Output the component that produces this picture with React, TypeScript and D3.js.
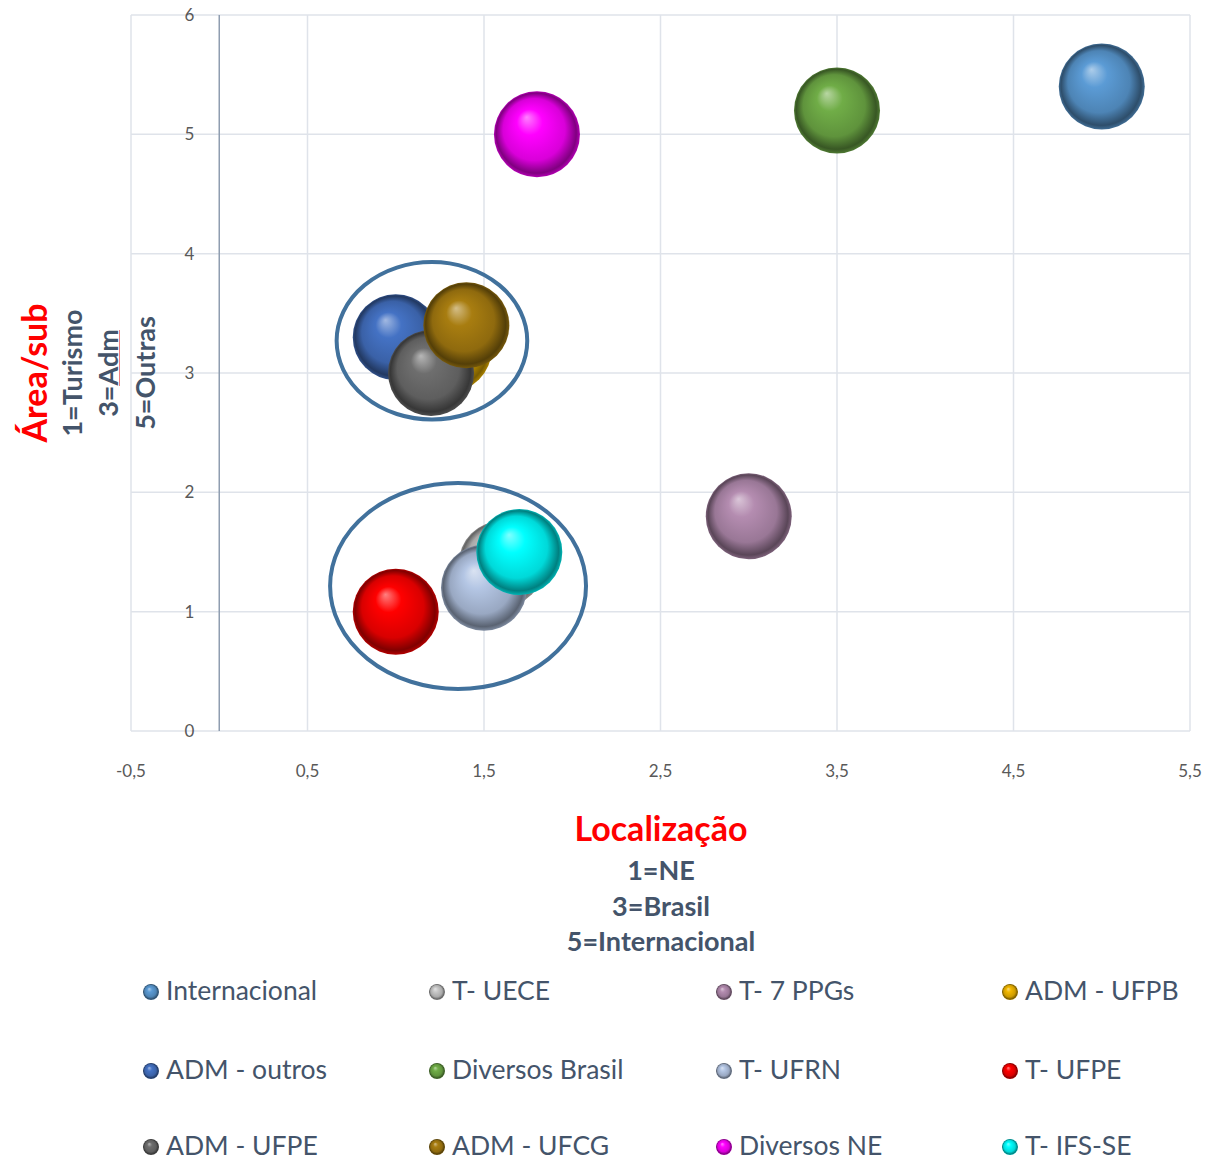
import * as d3 from "d3";

// series, in drawing order (later ones sit on top)
const seriesNames = [
  "Internacional", "T- UECE", "T- 7 PPGs", "ADM - UFPB",
  "ADM - outros", "Diversos Brasil", "T- UFRN", "T- UFPE",
  "ADM - UFPE", "ADM - UFCG", "Diversos NE", "T- IFS-SE",
];
const xValues = [5, 1.6, 3, 1.3, 1, 3.5, 1.5, 1, 1.2, 1.4, 1.8, 1.7];
const yValues = [5.4, 1.4, 1.8, 3.2, 3.3, 5.2, 1.2, 1, 3, 3.4, 5, 1.5];
const bubbleSizes = [1, 1, 1, 1, 1, 1, 1, 1, 1, 1, 1, 1];
const seriesColors = [
  "#5b9bd5", "#c8c8c8", "#b48cb0", "#f2b800",
  "#4472c4", "#70ad47", "#b4c6e4", "#ff0000",
  "#6e6e6e", "#a87d10", "#ff00ff", "#00ffff",
];

const xTicks = [-0.5, 0.5, 1.5, 2.5, 3.5, 4.5, 5.5];
const yTicks = [0, 1, 2, 3, 4, 5, 6];

// hand-drawn ellipses around the two groups (data coords)
const groupCx = [1.205, 1.353];
const groupCy = [3.27, 1.215];
const groupRx = [0.54, 0.725];
const groupRy = [0.66, 0.863];

const yTitle = "Área/sub";
const yNotes = ["1=Turismo", "3=Adm", "5=Outras"];
const xTitle = "Localização";
const xNotes = ["1=NE", "3=Brasil", "5=Internacional"];

const width = 1216;
const height = 1162;
const left = 131, right = 1190, top = 15, bottom = 731;
const font = "Lato, 'Open Sans', sans-serif";
const labelColor = "#44546a";

export default function App() {
  const x = d3.scaleLinear().domain([-0.5, 5.5]).range([left, right]);
  const y = d3.scaleLinear().domain([0, 6]).range([bottom, top]);
  const r = d3.scaleSqrt().domain([0, 1]).range([0, 43]);
  const fmt = (v: number) => d3.format(".1f")(v).replace(".", ",").replace("−", "-");

  const lighter = (c: string, k: number) => d3.interpolateRgb(c, "#ffffff")(k);
  const darker = (c: string, k: number) => d3.interpolateRgb(c, "#000000")(k);

  const legendCols = [143, 429, 716, 1002];
  const legendRows = [992, 1071, 1147];
  const notesX = [82, 118, 155];

  return (
    <svg width={width} height={height} style={{ position: "absolute", left: 0, top: 0, background: "#fff" }}>
      <defs>
        {seriesColors.map((c, i) => (
          <radialGradient key={i} id={`ball${i}`} cx="50%" cy="50%" r="50%" fx="38%" fy="30%">
            <stop offset="0%" stopColor={lighter(c, 0.5)} />
            <stop offset="30%" stopColor={c} />
            <stop offset="72%" stopColor={darker(c, 0.15)} />
            <stop offset="93%" stopColor={darker(c, 0.5)} />
            <stop offset="100%" stopColor={darker(c, 0.3)} />
          </radialGradient>
        ))}
      </defs>

      {/* grid */}
      <g stroke="#dfe3ea" strokeWidth={1.5}>
        {xTicks.map((t) => (
          <line key={`gx${t}`} x1={x(t)} x2={x(t)} y1={top} y2={bottom} />
        ))}
        {yTicks.map((t) => (
          <line key={`gy${t}`} x1={left} x2={right} y1={y(t)} y2={y(t)} />
        ))}
      </g>
      <line x1={x(0)} x2={x(0)} y1={top} y2={bottom} stroke="#8f9db0" strokeWidth={1.5} />

      {/* tick labels */}
      <g fontFamily={font} fontSize={17} fill="#595959">
        {yTicks.map((t) => (
          <text key={`ty${t}`} x={x(0) - 25} y={y(t)} dy="0.35em" textAnchor="end">{t}</text>
        ))}
        {xTicks.map((t) => (
          <text key={`tx${t}`} x={x(t)} y={777} textAnchor="middle">{fmt(t)}</text>
        ))}
      </g>

      {/* bubbles */}
      {seriesNames.map((n, i) => (
        <circle key={n} cx={x(xValues[i])} cy={y(yValues[i])} r={r(bubbleSizes[i])} fill={`url(#ball${i})`} />
      ))}

      {/* group ellipses */}
      {groupCx.map((cx, i) => (
        <ellipse
          key={`e${i}`}
          cx={x(cx)}
          cy={y(groupCy[i])}
          rx={x(groupRx[i]) - x(0)}
          ry={y(0) - y(groupRy[i])}
          fill="none"
          stroke="#41719c"
          strokeWidth={4}
        />
      ))}

      {/* y-axis title */}
      <g fontFamily={font} fontWeight="bold" textAnchor="middle">
        <text transform="translate(47,373) rotate(-90)" fontSize={34} fill="#ff0000">{yTitle}</text>
        {yNotes.map((t, i) => (
          <text key={t} transform={`translate(${notesX[i]},373) rotate(-90)`} fontSize={27} fill={labelColor}>{t}</text>
        ))}
        {/* spell-check squiggle under "Adm" */}
        <line x1={119.5} x2={119.5} y1={330} y2={386} stroke="#f08080" strokeWidth={1} />
      </g>

      {/* x-axis title */}
      <g fontFamily={font} fontWeight="bold" textAnchor="middle">
        <text x={661} y={841} fontSize={34} fill="#ff0000">{xTitle}</text>
        {xNotes.map((t, i) => (
          <text key={t} x={661} y={880 + i * 35.5} fontSize={27} fill={labelColor}>{t}</text>
        ))}
      </g>

      {/* legend */}
      <g fontFamily={font} fontSize={26.5} fill={labelColor}>
        {seriesNames.map((n, i) => {
          const cx = legendCols[i % 4] + 8;
          const cy = legendRows[Math.floor(i / 4)];
          return (
            <g key={`l${n}`}>
              <circle cx={cx} cy={cy} r={8} fill={`url(#ball${i})`} />
              <text x={cx + 15} y={cy} dy="0.32em">{n}</text>
            </g>
          );
        })}
      </g>
    </svg>
  );
}
